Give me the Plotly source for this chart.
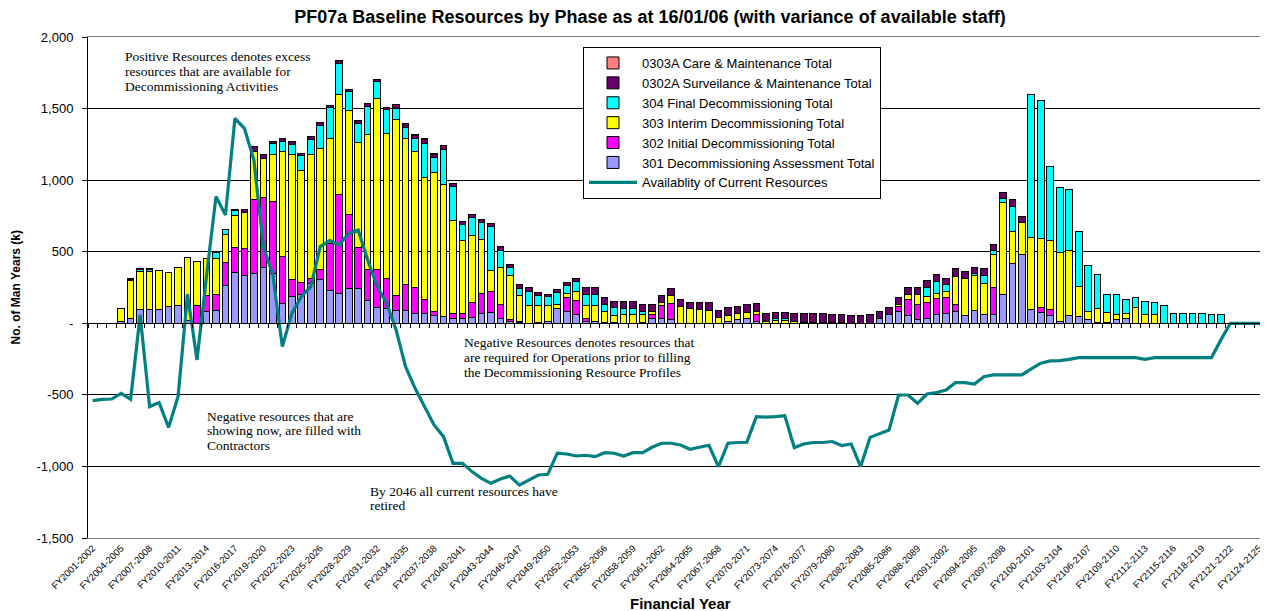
import plotly.graph_objects as go

# ---------------- data ----------------
start_years = list(range(2001, 2126))
categories = [f"FY{y}-{y + 1}" for y in start_years]          # 125 financial years
x_pos = list(range(len(categories)))

lead = [0, 0, 0]          # FY2001-2002 .. FY2003-2004 : no bars
tail = [0, 0, 0, 0, 0]    # FY2121-2122 .. FY2125-2126 : no bars

s301 = lead + [10, 35, 98, 98, 98, 116, 126, 20, 0, 79,
               86, 263, 356, 331, 349, 391, 349, 140, 186, 203,
               280, 307, 226, 210, 245, 240, 158, 112, 105, 86,
               86, 65, 65, 54, 47, 35, 35, 42, 65, 75,
               35, 10, 5, 0, 7, 12, 105, 82, 58, 16,
               12, 7, 7, 0, 0, 7, 30, 35, 23, 0,
               0, 0, 0, 0, 12, 23, 30, 12, 0, 0,
               0, 0, 0, 0, 0, 0, 0, 0, 0, 0,
               30, 58, 82, 51, 28, 35, 58, 65, 82, 54,
               86, 63, 63, 203, 419, 482, 93, 75, 51, 12,
               51, 47, 23, 7, 7, 23, 30, 0, 0, 0,
               0, 0, 0, 0, 0, 0, 0] + tail

s302 = lead + [0, 0, 0, 0, 0, 0, 0, 0, 121, 112,
               112, 163, 175, 193, 517, 487, 505, 326, 121, 82,
               30, 72, 333, 692, 512, 291, 219, 261, 210, 105,
               182, 186, 102, 28, 0, 35, 30, 102, 144, 147,
               93, 13, 7, 0, 0, 0, 0, 98, 98, 19,
               0, 0, 0, 0, 0, 0, 28, 86, 116, 0,
               0, 0, 0, 0, 0, 0, 0, 49, 0, 0,
               0, 0, 0, 0, 0, 0, 0, 0, 0, 0,
               0, 0, 35, 112, 100, 109, 114, 114, 51, 0,
               0, 0, 189, 0, 0, 0, 0, 35, 47, 0,
               0, 0, 0, 0, 0, 0, 0, 0, 0, 0,
               0, 0, 0, 0, 0, 0, 0] + tail

s303 = lead + [95, 262, 265, 265, 268, 240, 263, 439, 314, 261,
               256, 196, 221, 249, 333, 275, 326, 734, 873, 780,
               870, 843, 729, 699, 727, 731, 943, 1195, 1008, 1234,
               1020, 952, 850, 973, 925, 647, 510, 466, 377, 147,
               263, 310, 179, 121, 114, 110, 23, 30, 65, 88,
               112, 75, 50, 58, 58, 51, 23, 26, 54, 116,
               105, 93, 88, 42, 42, 42, 42, 23, 14, 19,
               19, 12, 8, 8, 0, 0, 0, 0, 0, 0,
               0, 0, 12, 35, 70, 42, 37, 42, 193, 261,
               245, 217, 226, 643, 221, 221, 508, 484, 480, 484,
               456, 210, 58, 98, 70, 35, 35, 109, 63, 63,
               0, 0, 0, 0, 0, 0, 0] + tail

s304 = lead + [0, 12, 12, 12, 0, 0, 0, 0, 0, 0,
               42, 30, 35, 0, 0, 0, 77, 70, 70, 105,
               105, 163, 219, 217, 135, 135, 193, 121, 168, 77,
               79, 88, 240, 102, 240, 238, 112, 128, 119, 307,
               121, 56, 54, 100, 72, 65, 88, 54, 70, 79,
               79, 51, 50, 47, 47, 23, 0, 0, 0, 0,
               0, 0, 0, 0, 0, 0, 0, 0, 0, 12,
               12, 0, 0, 0, 7, 7, 5, 0, 0, 0,
               0, 0, 0, 0, 0, 63, 82, 47, 0, 0,
               19, 51, 28, 23, 175, 0, 999, 960, 517, 454,
               429, 384, 326, 233, 126, 140, 102, 72, 88, 82,
               121, 65, 70, 65, 65, 63, 63] + tail

s0302a = lead + [0, 5, 7, 7, 4, 0, 0, 0, 0, 0,
                 0, 5, 5, 19, 35, 23, 16, 20, 17, 18,
                 19, 17, 16, 17, 16, 19, 19, 16, 18, 23,
                 26, 22, 28, 22, 27, 23, 23, 23, 23, 23,
                 23, 19, 23, 28, 23, 16, 23, 23, 23, 47,
                 47, 47, 44, 47, 47, 47, 47, 47, 51, 47,
                 39, 49, 54, 47, 54, 54, 56, 56, 51, 47,
                 47, 53, 57, 57, 58, 51, 53, 51, 51, 58,
                 51, 54, 51, 51, 51, 49, 47, 47, 54, 47,
                 42, 49, 42, 47, 47, 42, 0, 0, 0, 0,
                 0, 0, 0, 0, 0, 0, 0, 0, 0, 0,
                 0, 0, 0, 0, 0, 0, 0] + tail

s0303a = lead + [0] * 29 + [4, 5, 8, 7, 9] + [0] * 83 + tail

availability = [-540, -531, -529, -489, -531, 58, -582, -554, -727, -512,
                203, -256, 330, 885, 757, 1432, 1362, 1141, 536, 338,
                -163, 70, 186, 256, 536, 578, 547, 629, 652, 442,
                256, 140, -47, -303, -454, -582, -710, -792, -978, -978,
                -1036, -1083, -1118, -1088, -1067, -1130, -1095, -1060, -1055, -908,
                -913, -927, -922, -932, -904, -908, -927, -904, -904, -866,
                -838, -838, -850, -880, -866, -852, -1001, -838, -833, -831,
                -652, -656, -652, -645, -868, -843, -833, -833, -826, -854,
                -843, -1001, -797, -773, -745, -501, -501, -559, -494, -484,
                -466, -415, -415, -424, -373, -361, -361, -361, -361, -319,
                -279, -263, -261, -252, -240, -240, -240, -240, -240, -240,
                -240, -252, -240, -240, -240, -240, -240, -240, -240, -116,
                0, 0, 0, 0, 0]

y_tick_vals = [-1500, -1000, -500, 0, 500, 1000, 1500, 2000]
y_tick_text = ["-1,500", "-1,000", "-500", "-", "500", "1,000", "1,500", "2,000"]

series = [
    ("301 Decommissioning Assessment Total", s301, "#9999FF", 6),
    ("302 Initial Decommissioning Total", s302, "#FF00FF", 5),
    ("303 Interim Decommissioning Total", s303, "#FFFF00", 4),
    ("304 Final Decommissioning Total", s304, "#00FFFF", 3),
    ("0302A Surveilance & Maintenance Total", s0302a, "#660066", 2),
    ("0303A Care & Maintenance Total", s0303a, "#FF8080", 1),
]

# ---------------- figure ----------------
fig = go.Figure()
for name, vals, color, rank in series:
    fig.add_trace(go.Bar(
        x=x_pos, y=[v if v else None for v in vals], name=name,
        marker=dict(color=color, line=dict(color="black", width=1)),
        legendrank=rank, xaxis="x", yaxis="y",
    ))

fig.add_trace(go.Scatter(
    x=x_pos, y=availability, name="Availablity of Current Resources",
    mode="lines", line=dict(color="#008080", width=3.2),
    legendrank=7, xaxis="x2", yaxis="y",
))

# page body has an 8px margin: the figure sits at (8, 8) in the window
OFF = 8
W, H = 1268 - OFF, 611 - OFF
PL, PR, PT, PB = 88, 1273, 37, 538        # plot area in window pixels
L, T = PL - OFF, PT - OFF
B = H - (PB - OFF)
pw, ph = W - L, H - T - B
xr = [-0.5, 123.97]


def px(xp):
    return (xp - PL) / pw


def py(yp):
    return (PB - yp) / ph


fig.update_layout(
    width=W, height=H,
    margin=dict(l=L, r=0, t=T, b=B, autoexpand=False),
    paper_bgcolor="white", plot_bgcolor="white",
    barmode="stack", bargap=0.3,
    font=dict(family="Liberation Sans, Arial, sans-serif", color="black"),
    title=dict(text="<b>PF07a Baseline Resources by Phase as at 16/01/06 (with variance of available staff)</b>",
               x=(650 - OFF) / W, xanchor="center", y=1 - (17 - OFF) / H, yanchor="middle",
               font=dict(size=18, color="black")),
    xaxis=dict(range=xr, tickmode="array", tickvals=x_pos[::3], ticktext=categories[::3],
               tickangle=-45, tickfont=dict(size=9.5), showgrid=False, zeroline=False,
               showline=True, linecolor="#808080", mirror=True, ticks="", automargin=False),
    xaxis2=dict(overlaying="x", anchor="free", position=1500 / 3500, range=xr,
                showline=True, linecolor="black", linewidth=1,
                ticks="outside", ticklen=4, tickcolor="black",
                tickmode="array", tickvals=[j - 0.5 for j in range(126)],
                showticklabels=False, showgrid=False, zeroline=False),
    yaxis=dict(range=[-1500, 2000], tickmode="array", tickvals=y_tick_vals, ticktext=y_tick_text,
               showgrid=True, gridcolor="#000000", gridwidth=1, zeroline=False,
               showline=True, linecolor="black", ticks="outside", ticklen=5, tickcolor="black",
               tickfont=dict(size=13), ticklabelstandoff=6, automargin=False),
    legend=dict(x=px(583), y=py(47), xanchor="left", yanchor="top", traceorder="normal",
                bgcolor="white", bordercolor="black", borderwidth=1,
                font=dict(size=13), tracegroupgap=0, itemwidth=48,
                entrywidth=300, entrywidthmode="pixels"),
    showlegend=True,
)

ann = []
ann.append(dict(text="<b>No. of Man Years (k)</b>", x=px(15), y=0.5, xref="paper", yref="paper",
                xanchor="center", yanchor="middle", textangle=-90, showarrow=False,
                font=dict(size=12)))
ann.append(dict(text="<b>Financial Year</b>", x=px(680), y=py(603), xref="paper", yref="paper",
                xanchor="center", yanchor="middle", showarrow=False, font=dict(size=15)))

notes = [
    (123, [57, 71.5, 86], ["Positive Resources denotes excess",
                           "resources that are available for",
                           "Decommissioning Activities"]),
    (462, [343, 357.5, 372], ["Negative Resources denotes resources that",
                              "are required for Operations prior to filling",
                              "the Decommissioning Resource Profiles"]),
    (205, [416, 430.5, 445], ["Negative resources that are",
                              "showing now, are filled with",
                              "Contractors"]),
    (368, [491, 505.5], ["By 2046 all current resources have",
                         "retired"]),
]
for xl, ys, lines in notes:
    for yy, line in zip(ys, lines):
        ann.append(dict(text=line, x=px(xl), y=py(yy), xref="paper", yref="paper",
                        xanchor="left", yanchor="middle", showarrow=False, align="left",
                        font=dict(family="Liberation Serif, Times New Roman, serif", size=13.5,
                                  color="black")))
fig.update_layout(annotations=ann)

fig.write_html("out.html")
